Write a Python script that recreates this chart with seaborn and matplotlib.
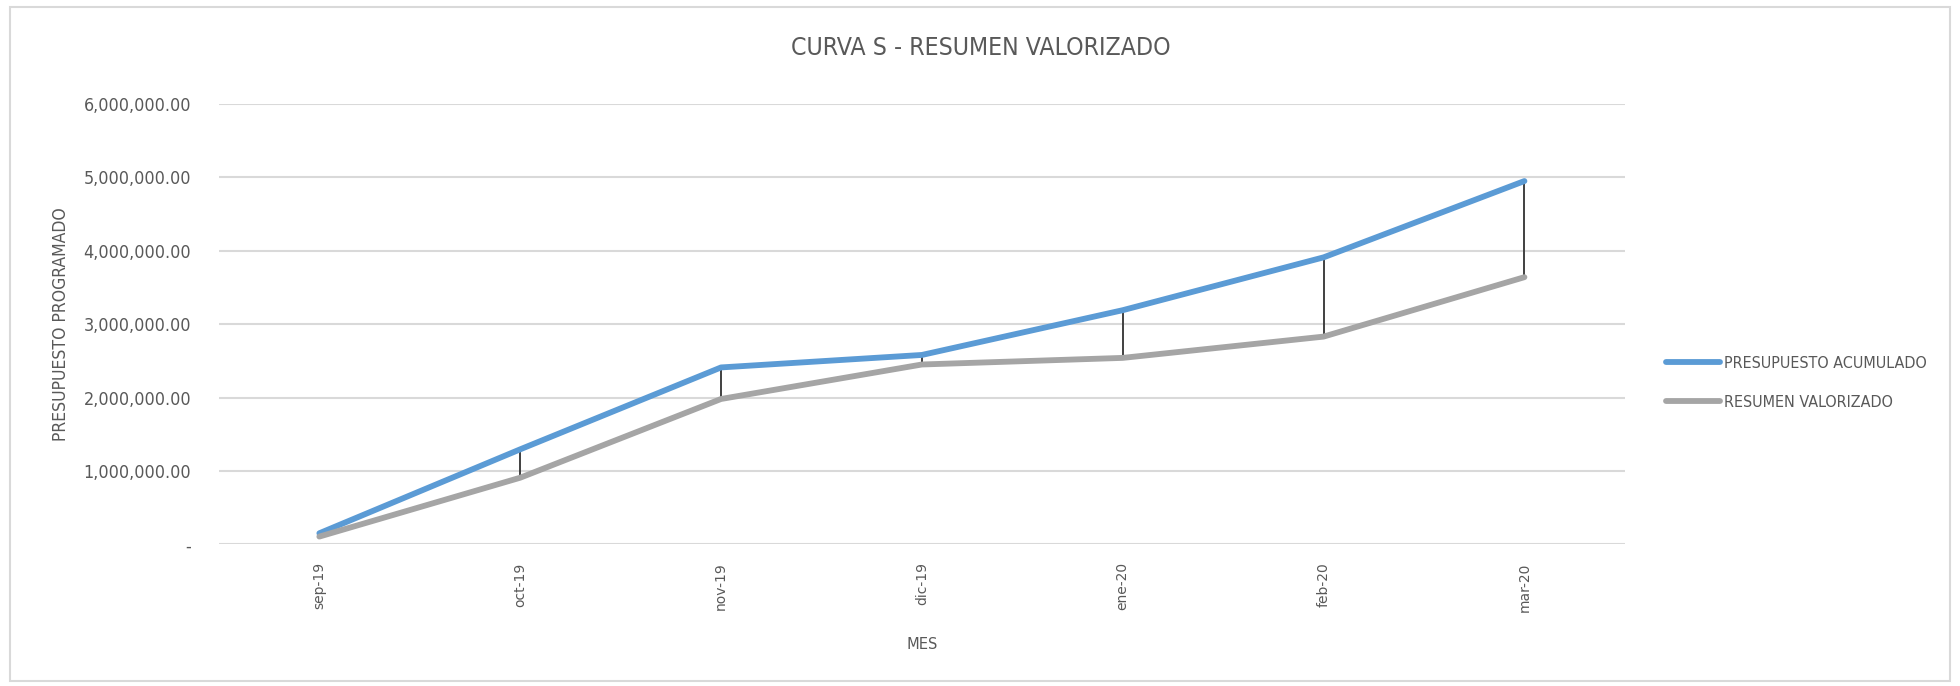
import pandas as pd
import numpy as np
import seaborn as sns
import matplotlib.pyplot as plt
from matplotlib import font_manager
from matplotlib.patches import Rectangle

meses = ["sep-19", "oct-19", "nov-19", "dic-19", "ene-20", "feb-20", "mar-20"]
presupuesto_acumulado = [150000, 1294000, 2410000, 2580000, 3190000, 3910000, 4950000]
resumen_valorizado = [105000, 907000, 1980000, 2450000, 2540000, 2830000, 3640000]
series = ["PRESUPUESTO ACUMULADO", "RESUMEN VALORIZADO"]
y_ticks = [0, 1000000, 2000000, 3000000, 4000000, 5000000, 6000000]

sns.set_theme(style="white")
plt.rcParams['font.family'] = ['DejaVu Sans']

# original uses a narrow font (Agency FB); use condensed DejaVu if it is there
cond = any(f.name == "DejaVu Sans" and str(f.stretch) in ("condensed", "semi-condensed")
           for f in font_manager.fontManager.ttflist)
k = 1.12 if cond else 1.0
plt.rcParams['font.stretch'] = "condensed" if cond else "normal"

df = pd.DataFrame({
    "MES": meses * 2,
    "valor": presupuesto_acumulado + resumen_valorizado,
    "serie": [series[0]] * len(meses) + [series[1]] * len(meses),
})
df["x"] = df["MES"].map({m: i for i, m in enumerate(meses)})

txt = "#595959"
fig = plt.figure(figsize=(19.6, 6.86), dpi=100)
ax = fig.add_axes([0.1117, 0.2066, 0.7173, 0.6418])

# drop lines between the two series
ax.vlines(range(len(meses)), resumen_valorizado, presupuesto_acumulado,
          color="#404040", linewidth=1.4, zorder=1)

sns.lineplot(data=df, x="x", y="valor", hue="serie", palette=["#5B9BD5", "#A5A5A5"],
             linewidth=4.2, ax=ax, zorder=2, legend=True)
for l in ax.lines:
    l.set_solid_capstyle("round")

ax.set_xlim(-0.5, len(meses) - 0.5)
ax.set_ylim(0, 6000000)
ax.set_yticks(y_ticks)
ax.set_yticklabels(["-" if v == 0 else f"{v:,.2f}" for v in y_ticks], fontsize=11.5 * k, color=txt)
ax.set_xticks(range(len(meses)))
ax.set_xticklabels(meses, rotation=90, fontsize=10, color=txt, fontstretch="normal")
ax.tick_params(axis="x", length=0, pad=13)
ax.tick_params(axis="y", length=0, pad=20)
ax.grid(axis="y", color="#D9D9D9", linewidth=1.5)
ax.set_axisbelow(True)
for s in ax.spines.values():
    s.set_visible(False)

ax.set_xlabel("MES", fontsize=10.5 * k, color=txt, labelpad=18)
ax.set_ylabel("PRESUPUESTO PROGRAMADO", fontsize=11.3 * k, color=txt)
ax.yaxis.set_label_coords(70 / 1960, 1 - 324 / 686, transform=fig.transFigure)
fig.text(0.5006, 0.93, "CURVA S - RESUMEN VALORIZADO", ha="center", va="center",
         fontsize=15.9 * k, color=txt)

handles, labels = ax.get_legend_handles_labels()
ax.legend(handles, labels, loc="center left", bbox_to_anchor=(1666 / 1960, 0.442),
          bbox_transform=fig.transFigure, frameon=False, fontsize=10.3 * k,
          handlelength=3.4, handletextpad=0.2, labelspacing=1.5, labelcolor=txt,
          borderpad=0, borderaxespad=0)

fig.patches.append(Rectangle((0.005, 0.008), 0.99, 0.982, transform=fig.transFigure,
                             fill=False, edgecolor="#D9D9D9", linewidth=1.5))

fig.savefig("out.png", dpi=100)
